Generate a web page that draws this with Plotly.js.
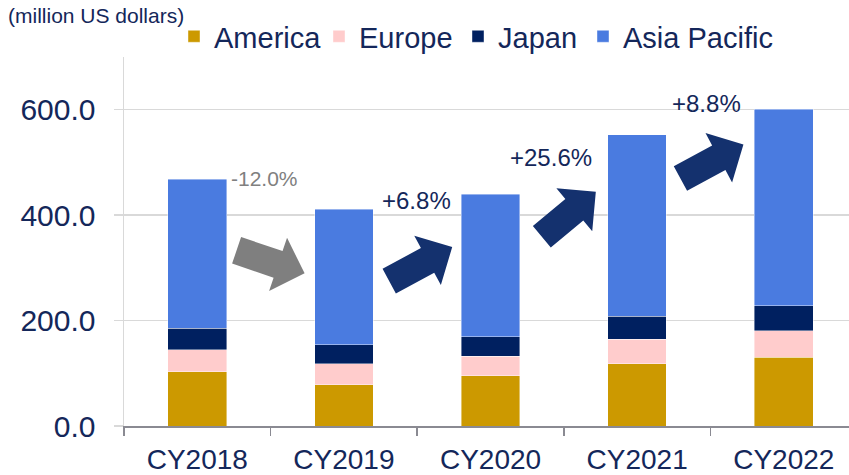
<!DOCTYPE html>
<html><head><meta charset="utf-8">
<script src="https://cdn.plot.ly/plotly-3.0.1.min.js"></script>
<style>html,body{margin:0;padding:0;background:#fff;}#chart{width:849px;height:475px;}</style>
</head><body><div id="chart"></div>
<script>
const categories = ['CY2018', 'CY2019', 'CY2020', 'CY2021', 'CY2022'];
const america = [102.5, 78.5, 95.0, 118.5, 130.5];
const europe = [42.5, 40.0, 37.5, 46.5, 50.5];
const japan = [40.0, 36.0, 36.5, 43.5, 47.0];
const asiaPacific = [283.5, 256.5, 271.0, 344.0, 372.5];
const growthLabels = ['-12.0%', '+6.8%', '+25.6%', '+8.8%'];
const yTickVals = [0, 200, 400, 600];
const yTickText = ['0.0', '200.0', '400.0', '600.0'];
const unitLabel = '(million US dollars)';

const FONT = 'Liberation Sans, Arial, sans-serif';
const NAVY_TEXT = '#14275A';
const totals = categories.map((_, i) => america[i] + europe[i] + japan[i] + asiaPacific[i]);

const seriesDefs = [
  {name: 'America', y: america, color: '#CC9900', legendX: 174},
  {name: 'Europe', y: europe, color: '#FFCCCC', legendX: 319},
  {name: 'Japan', y: japan, color: '#002060', legendX: 458},
  {name: 'Asia Pacific', y: asiaPacific, color: '#4A7BE0', legendX: 583}
];
const legendIds = ['legend', 'legend2', 'legend3', 'legend4'];
const traces = seriesDefs.map((s, i) => ({
  type: 'bar', name: s.name, x: categories, y: s.y,
  marker: {color: s.color, line: {color: 'rgba(255,255,255,0.7)', width: 0.6}},
  legend: legendIds[i], hoverinfo: 'skip'
}));

// label placement (layout only)
const labelPlace = [
  {bar: 0, anchor: 'left', dx: 0.2, xshift: 2, yshift: 1, color: '#808080', size: 21},
  {bar: 2, anchor: 'right', dx: -0.2, xshift: -8, yshift: -6, color: NAVY_TEXT, size: 24},
  {bar: 3, anchor: 'right', dx: -0.2, xshift: -14, yshift: -23, color: NAVY_TEXT, size: 24},
  {bar: 4, anchor: 'right', dx: -0.2, xshift: -11, yshift: 6, color: NAVY_TEXT, size: 24}
];
// block arrows: tip offset from next bar's top-left corner (screen px), tail offset from tip
const arrowPlace = [
  {tipDx: -10, tipDy: 64, ax: -68, ay: -23, color: '#7F7F7F'},
  {tipDx: -9, tipDy: 53, ax: -63, ay: 34, color: '#14316E'},
  {tipDx: -12, tipDy: 57, ax: -54, ay: 45, color: '#14316E'},
  {tipDx: -11, tipDy: 35, ax: -63, ay: 34, color: '#14316E'}
];
const SHAFT_HALF = 14, HEAD_HALF = 28, HEAD_LEN = 28;

function arrowPath(a) {
  const tip = [a.tipDx, a.tipDy];
  const tail = [a.tipDx + a.ax, a.tipDy + a.ay];
  const L = Math.hypot(a.ax, a.ay);
  const u = [-a.ax / L, -a.ay / L];
  const n = [-u[1], u[0]];
  const neck = [tip[0] - u[0] * HEAD_LEN, tip[1] - u[1] * HEAD_LEN];
  const pts = [
    [tail[0] + n[0] * SHAFT_HALF, tail[1] + n[1] * SHAFT_HALF],
    [neck[0] + n[0] * SHAFT_HALF, neck[1] + n[1] * SHAFT_HALF],
    [neck[0] + n[0] * HEAD_HALF, neck[1] + n[1] * HEAD_HALF],
    tip,
    [neck[0] - n[0] * HEAD_HALF, neck[1] - n[1] * HEAD_HALF],
    [neck[0] - n[0] * SHAFT_HALF, neck[1] - n[1] * SHAFT_HALF],
    [tail[0] - n[0] * SHAFT_HALF, tail[1] - n[1] * SHAFT_HALF]
  ];
  // pixel-mode shape paths measure y upward
  return 'M' + pts.map(p => p[0].toFixed(2) + ',' + (-p[1]).toFixed(2)).join('L') + 'Z';
}

const shapes = arrowPlace.map((a, k) => ({
  type: 'path', xref: 'x', yref: 'y', xsizemode: 'pixel', ysizemode: 'pixel',
  xanchor: k + 1 - 0.2, yanchor: totals[k + 1], path: arrowPath(a),
  fillcolor: a.color, line: {width: 0}, layer: 'above'
}));

const annotations = [];
growthLabels.forEach((txt, k) => {
  const p = labelPlace[k];
  annotations.push({
    xref: 'x', yref: 'y', x: p.bar + p.dx, y: totals[p.bar], text: txt,
    showarrow: false, xanchor: p.anchor, yanchor: 'middle',
    xshift: p.xshift, yshift: p.yshift,
    font: {family: FONT, size: p.size, color: p.color}
  });
});
annotations.push({
  xref: 'paper', yref: 'paper', x: -0.163, y: 1.1124, xanchor: 'left', yanchor: 'middle',
  text: unitLabel, showarrow: false, font: {family: FONT, size: 21, color: NAVY_TEXT}
});

const layout = {
  width: 849, height: 475,
  margin: {l: 124, r: 0, t: 57.4, b: 49.3, pad: 0, autoexpand: false},
  paper_bgcolor: '#fff', plot_bgcolor: '#fff',
  barmode: 'stack', bargap: 0.6,
  font: {family: FONT, color: NAVY_TEXT},
  showlegend: true,
  xaxis: {
    type: 'category', range: [-0.5, 4.445], tickson: 'boundaries',
    ticks: 'outside', ticklen: 8, tickcolor: '#8A8A92', tickwidth: 1.5,
    showline: true, linecolor: '#8A8A92', linewidth: 1.5,
    showgrid: false, zeroline: false,
    tickfont: {family: FONT, size: 28, color: NAVY_TEXT}, ticklabelstandoff: 8
  },
  yaxis: {
    range: [0, 700], tickmode: 'array', tickvals: yTickVals, ticktext: yTickText,
    ticks: 'outside', ticklen: 9, tickcolor: '#D9D9D9', tickwidth: 1.5,
    showline: true, linecolor: '#D9D9D9', linewidth: 1.5,
    showgrid: true, gridcolor: '#D9D9D9', gridwidth: 1.5, zeroline: false,
    tickfont: {family: FONT, size: 30, color: NAVY_TEXT}, ticklabelstandoff: 12
  },
  shapes: shapes,
  annotations: annotations
};
seriesDefs.forEach((s, i) => {
  layout[legendIds[i]] = {
    orientation: 'h', xref: 'container', yref: 'container',
    x: s.legendX / 849, y: 0.977, xanchor: 'left', yanchor: 'top',
    font: {family: FONT, size: 29, color: NAVY_TEXT}, bgcolor: 'rgba(0,0,0,0)'
  };
});

Plotly.newPlot('chart', traces, layout, {displayModeBar: false, staticPlot: true});
</script>
</body></html>
